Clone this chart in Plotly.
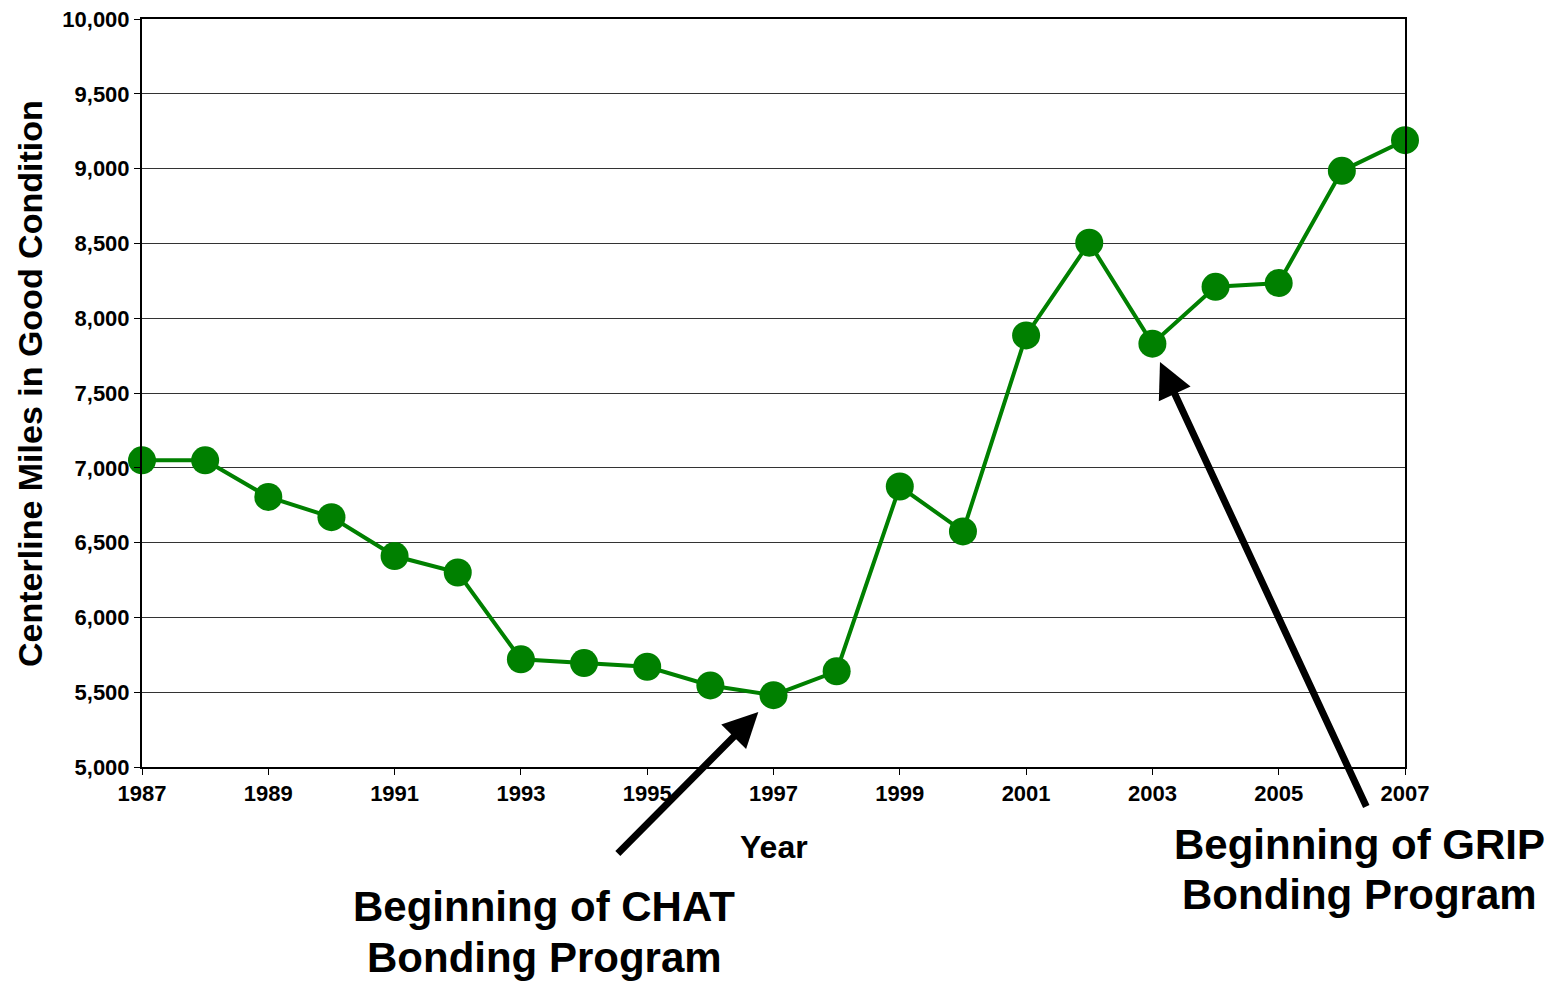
import plotly.graph_objects as go

years = list(range(1987, 2008))
miles = [7050, 7050, 6805, 6670, 6410, 6300, 5720, 5695, 5670, 5545, 5480,
         5640, 6875, 6575, 7885, 8505, 7830, 8210, 8235, 8985, 9190]

y_ticks = list(range(5000, 10001, 500))
y_tick_text = [f"{v:,}" for v in y_ticks]
x_ticks = list(range(1987, 2008, 2))

FONT = "Liberation Sans, Arial, sans-serif"
GREEN = "#008000"

fig = go.Figure()
fig.add_trace(go.Scatter(
    x=years, y=miles, mode="lines+markers",
    line=dict(color=GREEN, width=4),
    marker=dict(color=GREEN, size=28),
    cliponaxis=False, showlegend=False,
))

fig.update_layout(
    width=1546, height=976,
    margin=dict(l=134, r=149, t=11, b=217, autoexpand=False),
    paper_bgcolor="white", plot_bgcolor="white",
    font=dict(family=FONT, color="black"),
    showlegend=False,
)
fig.update_xaxes(
    range=[1987, 2007], tickvals=x_ticks, ticktext=[str(v) for v in x_ticks],
    tickfont=dict(family=FONT, size=22, weight="bold", color="black"),
    ticks="outside", ticklen=6, tickwidth=1, tickcolor="black",
    showline=True, linecolor="black", linewidth=2, mirror=True,
    showgrid=False, zeroline=False, automargin=False,
    ticklabeloverflow="allow",
)
fig.update_yaxes(
    range=[5000, 10000], tickvals=y_ticks, ticktext=y_tick_text,
    tickfont=dict(family=FONT, size=22, weight="bold", color="black"),
    ticks="outside", ticklen=6, tickwidth=1, tickcolor="black",
    showline=True, linecolor="black", linewidth=2, mirror=True,
    showgrid=True, gridcolor="#333333", gridwidth=1, zeroline=False,
    automargin=False, ticklabeloverflow="allow",
)

# axis titles
fig.add_annotation(
    text="Centerline Miles in Good Condition", textangle=-90,
    xref="paper", yref="paper", x=-0.0887, y=0.5134,
    xanchor="center", yanchor="middle", showarrow=False,
    font=dict(family=FONT, size=34, weight="bold", color="black"),
)
fig.add_annotation(
    text="Year", xref="x", yref="paper", x=1997, y=-0.107,
    xanchor="center", yanchor="middle", showarrow=False,
    font=dict(family=FONT, size=32, weight="bold", color="black"),
)

# arrows
fig.add_annotation(
    x=1996.76, y=5368, xref="x", yref="y", ax=-142, ay=143,
    showarrow=True, arrowhead=2, arrowsize=1, arrowwidth=7, arrowcolor="black",
    text="", standoff=0,
)
fig.add_annotation(
    x=2003.12, y=7707, xref="x", yref="y", ax=207, ay=446,
    showarrow=True, arrowhead=2, arrowsize=1, arrowwidth=7, arrowcolor="black",
    text="", standoff=0,
)

# labels (one annotation per line for tighter line spacing)
label_font = dict(family=FONT, size=42, weight="bold", color="black")
for txt, x, y in [
    ("Beginning of CHAT", 0.3183, -0.1860),
    ("Bonding Program", 0.3183, -0.2550),
    ("Beginning of GRIP", 0.9636, -0.1041),
    ("Bonding Program", 0.9636, -0.1710),
]:
    fig.add_annotation(
        text=txt, xref="paper", yref="paper", x=x, y=y,
        xanchor="center", yanchor="middle", showarrow=False,
        font=label_font,
    )

fig.write_html("out.html")
